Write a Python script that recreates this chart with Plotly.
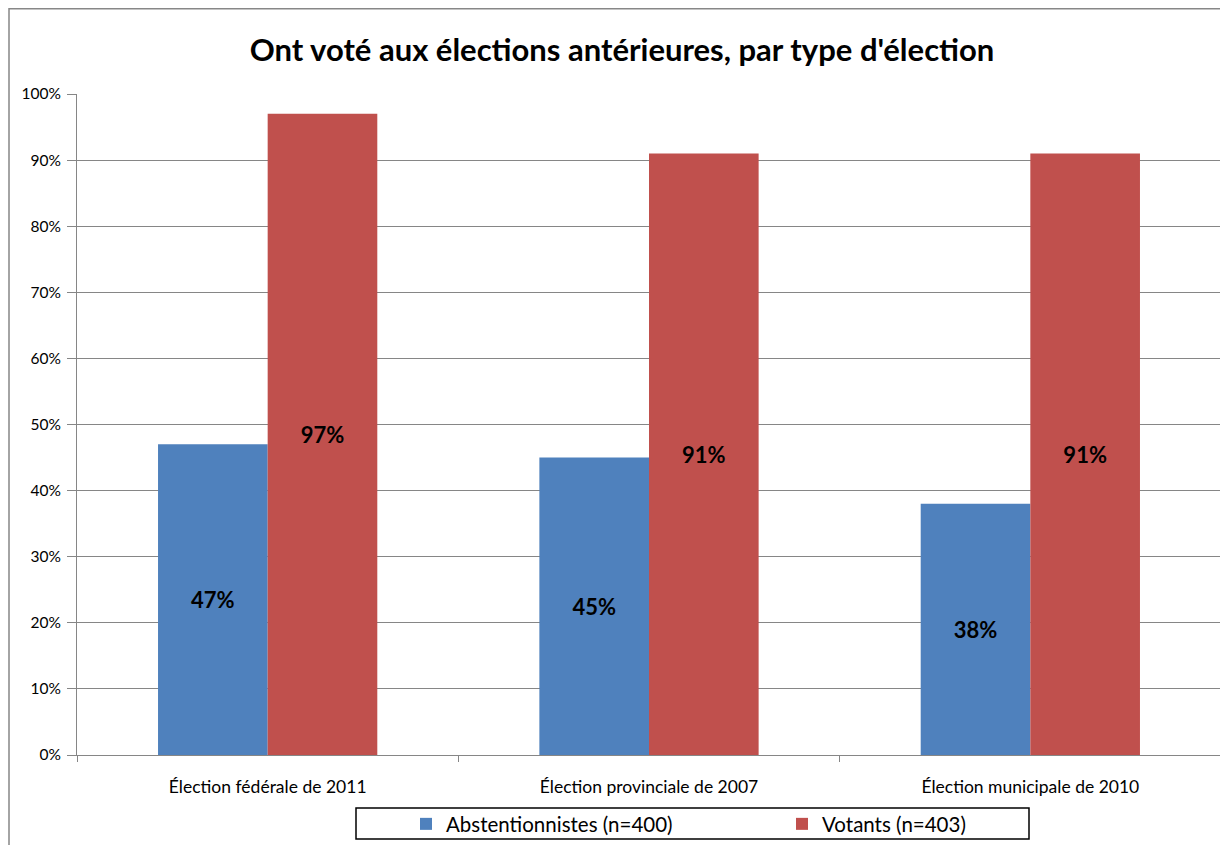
import plotly.graph_objects as go

categories = ["Élection fédérale de 2011", "Élection provinciale de 2007", "Élection municipale de 2010"]
abstentionnistes = [47, 45, 38]
votants = [97, 91, 91]
series_names = ["Abstentionnistes (n=400)", "Votants (n=403)"]
y_ticks = [0, 10, 20, 30, 40, 50, 60, 70, 80, 90, 100]
y_tick_labels = [f"{v}%" for v in y_ticks]
title = "Ont voté aux élections antérieures, par type d'élection"

FONT = "Lato"
BLUE = "#4F81BD"
RED = "#C0504D"

W, H = 1220, 837          # page body has an 8px offset
OFF = 8
PL, PR, PT, PB = 77, 1221, 94.3, 755   # plot area in screen px
PW, PHt = PR - PL, PB - PT

def px(xs):
    return (xs - PL) / PW

def py(ys):
    return (PB - ys) / PHt

fig = go.Figure()
for name, vals, col in [(series_names[0], abstentionnistes, BLUE), (series_names[1], votants, RED)]:
    fig.add_trace(go.Bar(
        x=categories, y=vals, name=name, marker=dict(color=col, line=dict(width=0)),
        text=[f"{v}%" for v in vals], textposition="inside", insidetextanchor="middle",
        textangle=0,
        textfont=dict(family=FONT, size=22, color="black", weight="bold"),
        cliponaxis=False,
    ))

fig.update_layout(
    width=W, height=H,
    margin=dict(l=PL - OFF, r=W + OFF - PR, t=PT - OFF, b=H + OFF - PB, autoexpand=False),
    paper_bgcolor="white", plot_bgcolor="white",
    barmode="group", bargap=0.425, bargroupgap=0,
    title=dict(text=title, x=(622 - OFF) / W, xanchor="center", y=1 - (50 - OFF) / H, yanchor="middle",
               font=dict(family=FONT, size=31, color="black", weight="bold")),
    font=dict(family=FONT, color="black"),
    showlegend=True,
    legend=dict(orientation="h", x=px(406), xanchor="left", y=py(824), yanchor="middle",
                entrywidth=331, entrywidthmode="pixels", font=dict(family=FONT, size=20.5, color="black"),
                bgcolor="rgba(0,0,0,0)", borderwidth=0, itemclick=False),
)
fig.update_xaxes(
    type="category", tickson="boundaries", ticks="outside", ticklen=6, tickcolor="#868686",
    showline=True, linecolor="#868686", linewidth=1, showgrid=False, automargin=False,
    tickfont=dict(family=FONT, size=17.5, color="black"), ticklabelstandoff=16,
)
fig.update_yaxes(
    range=[0, 100], tickvals=y_ticks, ticktext=y_tick_labels, ticks="outside", ticklen=9,
    tickcolor="#868686", showline=True, linecolor="#868686", linewidth=1, automargin=False,
    showgrid=True, gridcolor="#868686", gridwidth=1, zeroline=False,
    tickfont=dict(family=FONT, size=15.5, color="black"), ticklabelstandoff=3,
)
# outer chart border
fig.add_shape(type="rect", xref="paper", yref="paper",
              x0=px(9), x1=1.2, y0=-0.3, y1=py(9),
              line=dict(color="#878787", width=1.5), fillcolor="rgba(0,0,0,0)", layer="below")
# legend box
fig.add_shape(type="rect", xref="paper", yref="paper",
              x0=px(356), x1=px(1029), y0=py(839), y1=py(808),
              line=dict(color="black", width=1.5), fillcolor="rgba(0,0,0,0)")

fig.write_html("out.html")
